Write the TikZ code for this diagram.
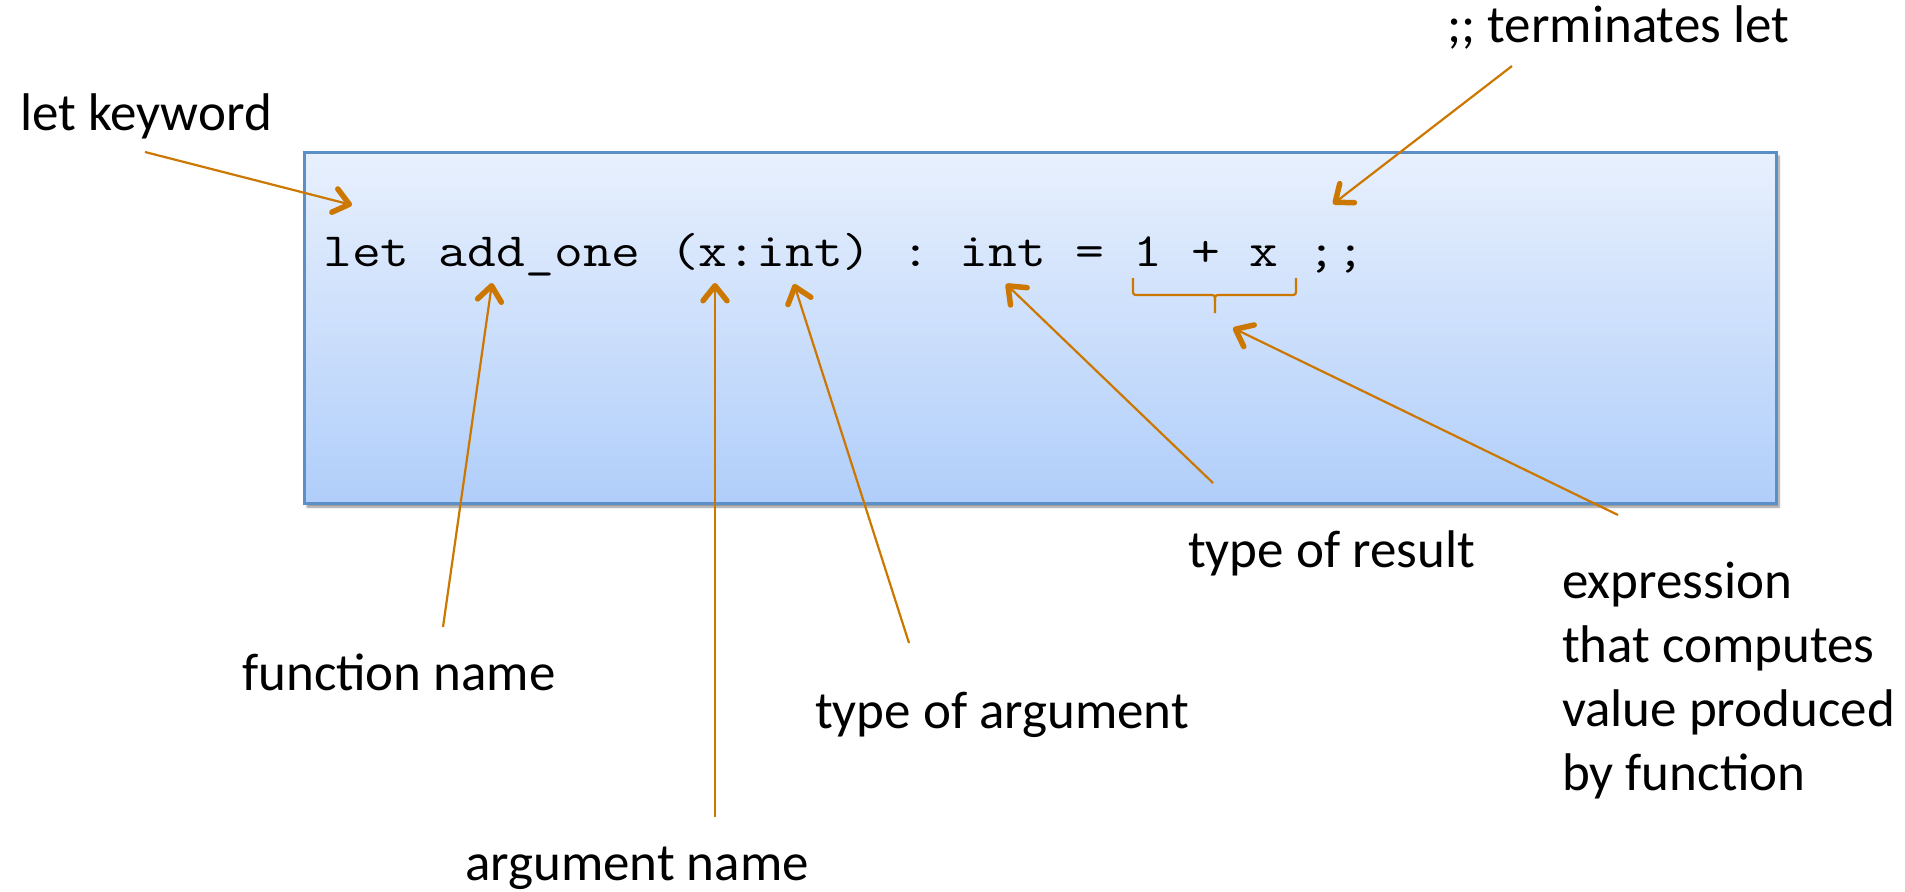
\documentclass[tikz,border=0pt]{standalone}
\usepackage{fontspec}
\usepackage{graphicx}
\setmainfont{Carlito}
\usetikzlibrary{arrows.meta,shadows.blur}

\definecolor{callc}{RGB}{204,119,0}
\definecolor{boxtop}{RGB}{232,240,253}
\definecolor{boxbot}{RGB}{176,206,250}
\definecolor{boxline}{RGB}{92,143,200}

% monospaced code line: every space as wide as one character cell
\newcommand{\codeline}[1]{\scalebox{1.02}[0.87]{\fontsize{54.86}{60}\ttfamily
  \spaceskip=0.525em\relax\xspaceskip=0.525em\relax #1}}

\tikzset{
  label/.style={inner sep=0pt, anchor=base west, font=\fontsize{53}{64}\selectfont},
  callout/.style={draw=callc, line width=2.2pt,
    -{Straight Barb[length=15pt, width=24pt, line width=5.5pt, round]}},
  brace/.style={draw=callc, line width=2.2pt},
  codebox/.style={draw=boxline, line width=3pt, top color=boxtop, bottom color=boxbot,
    blur shadow={shadow xshift=3pt, shadow yshift=-4pt, shadow blur steps=8, shadow opacity=45}}
}

\begin{document}
\frenchspacing
\begin{tikzpicture}[x=1pt,y=-1pt]
\useasboundingbox (0,0) rectangle (1905,891);

% code box with the definition
\path[codebox] (304,152) rectangle (1776,503);
\node[inner sep=0pt, anchor=base west] (code) at (323,266)
  {\codeline{let add\_one (x:int) : int = 1 + x ;;}};

% brace under the body expression
\path[brace] (1133,278) -- (1133,289) .. controls (1133,295) .. (1139,295) -- (1209,295)
  .. controls (1215,295) .. (1215,301) -- (1215,313);
\path[brace] (1296,278) -- (1296,289) .. controls (1296,295) .. (1290,295) -- (1221,295)
  .. controls (1215,295) .. (1215,301);

% labels
\node[label] (kw)   at (20,130)     {let keyword};
\node[label] (term) at (1447,43)    {;; terminates let};
\node[label] (fn)   at (242,690)    {function name};
\node[label] (arg)  at (465,880)    {argument name};
\node[label] (targ) at (815,728)    {type of argument};
\node[label] (tres) at (1188,567)   {type of result};
% multi-line label: its base is the baseline of the last line
\node[label, align=left] (expr) at (1562,790)
  {expression\\that computes\\value produced\\by function};

% arrow ends
\coordinate (kwT)   at (145,152);   \coordinate (kwH)   at (352,205);
\coordinate (termT) at (1512,66);   \coordinate (termH) at (1333,204);
\coordinate (fnT)   at (443,627);   \coordinate (fnH)   at (492,283);
\coordinate (argT)  at (715,817);   \coordinate (argH)  at (715,283);
\coordinate (targT) at (909,643);   \coordinate (targH) at (794,284);
\coordinate (tresT) at (1213,483);  \coordinate (tresH) at (1006,284);
\coordinate (exprT) at (1618,515);  \coordinate (exprH) at (1233,328);

% callout arrows
\draw[callout] (kwT) -- (kwH);
\draw[callout] (termT) -- (termH);
\draw[callout] (fnT) -- (fnH);
\draw[callout] (argT) -- (argH);
\draw[callout] (targT) -- (targH);
\draw[callout] (tresT) -- (tresH);
\draw[callout] (exprT) -- (exprH);
\end{tikzpicture}
\end{document}
